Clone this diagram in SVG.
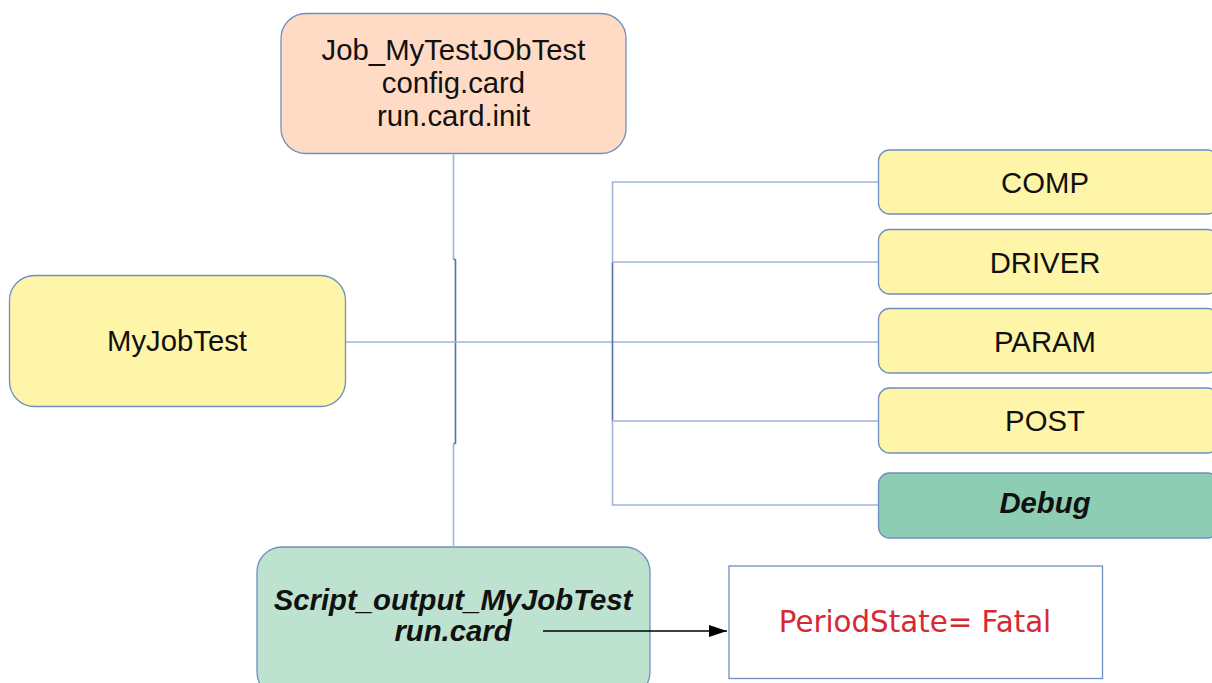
<svg xmlns="http://www.w3.org/2000/svg" width="1212" height="683" viewBox="0 0 1212 683">
  <style>
    .box { stroke: #6f8fc0; stroke-width: 1.3; }
    .peach { fill: #ffdbc6; }
    .yellow { fill: #fff5a8; }
    .teal { fill: #8ccdb3; }
    .mint { fill: #bde3d0; }
    .plain { fill: #ffffff; }
    .lbl { font-family: "Liberation Sans", Arial, sans-serif; font-size: 29.3px; fill: #111111; text-anchor: middle; }
    .bi { font-weight: bold; font-style: italic; }
    .state { font-family: "DejaVu Sans", Verdana, sans-serif; font-size: 29.3px; fill: #d52a33; text-anchor: middle; }
    .wire { fill: none; stroke: #9fb5da; stroke-width: 1.6; }
    .wire-dark { fill: none; stroke: #55729f; stroke-width: 1.6; }
    .arrow { fill: none; stroke: #000000; stroke-width: 1.5; }
  </style>
  <defs>
    <marker id="head" markerWidth="18" markerHeight="12" refX="18" refY="6" orient="auto" markerUnits="userSpaceOnUse">
      <path d="M0,0 L18,6 L0,12 Z" fill="#000000"/>
    </marker>
  </defs>

  <rect width="1212" height="683" fill="#ffffff"/>

  <g id="job-card">
    <rect class="box peach" x="281" y="13.5" width="345" height="140" rx="25"/>
    <text class="lbl" x="453.5" y="60">Job_MyTestJObTest</text>
    <text class="lbl" x="453.5" y="93">config.card</text>
    <text class="lbl" x="453.5" y="126">run.card.init</text>
  </g>

  <g id="my-job-test">
    <rect class="box yellow" x="9.5" y="275.5" width="336" height="131" rx="25"/>
    <text class="lbl" x="177" y="351">MyJobTest</text>
  </g>

  <g id="comp">
    <rect class="box yellow" x="878.5" y="150" width="340" height="64" rx="11"/>
    <text class="lbl" x="1045" y="192.5">COMP</text>
  </g>

  <g id="driver">
    <rect class="box yellow" x="878.5" y="229.5" width="340" height="64.5" rx="11"/>
    <text class="lbl" x="1045" y="272.5">DRIVER</text>
  </g>

  <g id="param">
    <rect class="box yellow" x="878.5" y="308.5" width="340" height="64.5" rx="11"/>
    <text class="lbl" x="1045" y="352">PARAM</text>
  </g>

  <g id="post">
    <rect class="box yellow" x="878.5" y="388" width="340" height="65" rx="11"/>
    <text class="lbl" x="1045" y="431">POST</text>
  </g>

  <g id="debug">
    <rect class="box teal" x="878.5" y="473" width="340" height="65" rx="11"/>
    <text class="lbl bi" x="1045" y="513">Debug</text>
  </g>

  <g id="script-output">
    <rect class="box mint" x="257" y="547" width="393" height="150" rx="25"/>
    <text class="lbl bi" x="453" y="610">Script_output_MyJobTest</text>
    <text class="lbl bi" x="453" y="641">run.card</text>
  </g>

  <g id="period-state">
    <rect class="box plain" x="729" y="566" width="373.5" height="112.5"/>
    <text class="state" x="915" y="632">PeriodState= Fatal</text>
  </g>

  <!-- connectors, drawn last so the output arrow sits over the script card -->
  <g id="connectors">
    <!-- job card down to script output -->
    <path class="wire" d="M453.5,154 V259"/>
    <path class="wire-dark" d="M453.5,259 L455.5,260 V443 L453.5,444"/>
    <path class="wire" d="M453.5,444 V547"/>
    <!-- main horizontal line -->
    <path class="wire" d="M346,342 H878"/>
    <!-- branch bus to the right-hand cards -->
    <path class="wire" d="M612.5,182 V262"/>
    <path class="wire-dark" d="M612.5,262 V421"/>
    <path class="wire" d="M612.5,421 V505"/>
    <path class="wire" d="M612,182 H878"/>
    <path class="wire" d="M612,262 H878"/>
    <path class="wire" d="M612,421 H878"/>
    <path class="wire" d="M612,505 H878"/>
    <!-- output arrow -->
    <path class="arrow" d="M543,631 H727" marker-end="url(#head)"/>
  </g>
</svg>
